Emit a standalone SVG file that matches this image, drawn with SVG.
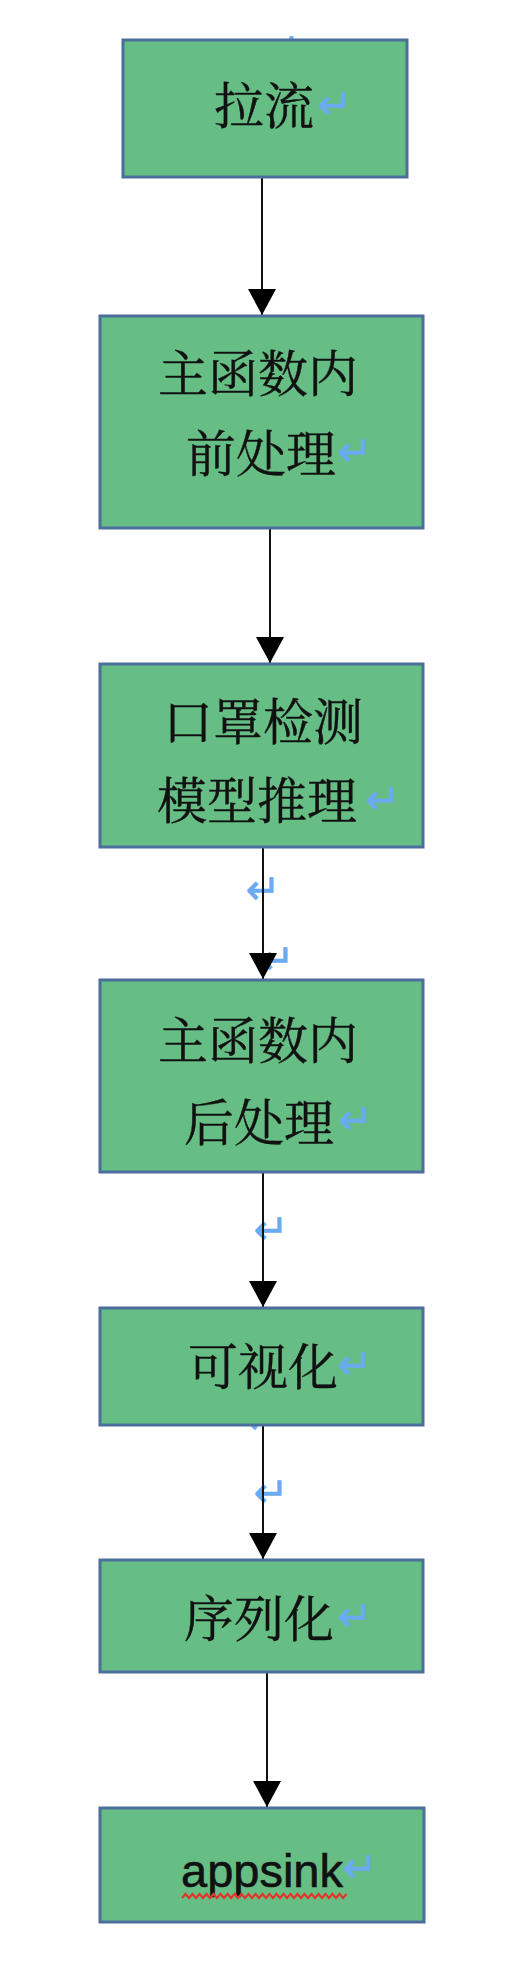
<svg xmlns="http://www.w3.org/2000/svg" width="506" height="1968" viewBox="0 0 506 1968">
<style>
.box{fill:#66BE85;stroke:#4B6E9C;stroke-width:3}
.cjk{font-family:"Noto Serif CJK SC","Noto Sans CJK SC",serif;font-size:50px;fill:#111;stroke:#111;stroke-width:0.4}
.lat{font-family:"Liberation Sans",Arial,sans-serif;font-size:47px;fill:#111}
.ret{font-family:"DejaVu Sans",sans-serif;font-size:42px;fill:#6AAAF0;stroke:#6AAAF0;stroke-width:0.6;text-anchor:middle}
.conn{stroke:#111;stroke-width:2;fill:none}
</style>
<defs>
<marker id="ah" viewBox="0 0 26 28" refX="26" refY="14" markerWidth="26" markerHeight="28" markerUnits="userSpaceOnUse" orient="auto">
<path d="M0,0 L26,14 L0,28 z" fill="#000"/>
</marker>
</defs>
<rect width="506" height="1968" fill="#fff"/>
<g id="stray-marks">
<text class="ret" x="283" y="63">↵</text>
<text class="ret" x="263" y="904">↵</text>
<text class="ret" x="277" y="974">↵</text>
<text class="ret" x="271" y="1244">↵</text>
<text class="ret" x="262" y="1434">↵</text>
<text class="ret" x="271" y="1507">↵</text>
</g>
<g id="connectors">
<line class="conn" x1="262" y1="177" x2="262" y2="315" marker-end="url(#ah)"/>
<line class="conn" x1="270" y1="528" x2="270" y2="663" marker-end="url(#ah)"/>
<line class="conn" x1="263" y1="847" x2="263" y2="979" marker-end="url(#ah)"/>
<line class="conn" x1="263" y1="1172" x2="263" y2="1307" marker-end="url(#ah)"/>
<line class="conn" x1="263" y1="1425" x2="263" y2="1559" marker-end="url(#ah)"/>
<line class="conn" x1="267" y1="1672" x2="267" y2="1807" marker-end="url(#ah)"/>
</g>
<g id="n1">
<rect class="box" x="123" y="40" width="284" height="137"/>
<text class="cjk" x="214" y="124">拉流</text>
<text class="ret" x="335" y="119">↵</text>
</g>
<g id="n2">
<rect class="box" x="100" y="316" width="323" height="212"/>
<text class="cjk" x="158" y="392">主函数内</text>
<text class="cjk" x="186" y="472">前处理</text>
<text class="ret" x="355" y="466">↵</text>
</g>
<g id="n3">
<rect class="box" x="100" y="664" width="323" height="183"/>
<text class="cjk" x="163" y="740">口罩检测</text>
<text class="cjk" x="157" y="819">模型推理</text>
<text class="ret" x="383" y="814">↵</text>
</g>
<g id="n4">
<rect class="box" x="100" y="980" width="323" height="192"/>
<text class="cjk" x="158" y="1059">主函数内</text>
<text class="cjk" x="184" y="1141">后处理</text>
<text class="ret" x="356" y="1134">↵</text>
</g>
<g id="n5">
<rect class="box" x="100" y="1308" width="323" height="117"/>
<text class="cjk" x="188" y="1385">可视化</text>
<text class="ret" x="355" y="1379">↵</text>
</g>
<g id="n6">
<rect class="box" x="100" y="1560" width="323" height="112"/>
<text class="cjk" x="184" y="1637">序列化</text>
<text class="ret" x="355" y="1631">↵</text>
</g>
<g id="n7">
<rect class="box" x="100" y="1808" width="324" height="114"/>
<text class="lat" x="181" y="1887" style="stroke:#111;stroke-width:0.6">appsink</text>
<text class="ret" x="360" y="1882">↵</text>
<path d="M182,1898 l3.5,-4 l3.5,4 l3.5,-4 l3.5,4 l3.5,-4 l3.5,4 l3.5,-4 l3.5,4 l3.5,-4 l3.5,4 l3.5,-4 l3.5,4 l3.5,-4 l3.5,4 l3.5,-4 l3.5,4 l3.5,-4 l3.5,4 l3.5,-4 l3.5,4 l3.5,-4 l3.5,4 l3.5,-4 l3.5,4 l3.5,-4 l3.5,4 l3.5,-4 l3.5,4 l3.5,-4 l3.5,4 l3.5,-4 l3.5,4 l3.5,-4 l3.5,4 l3.5,-4 l3.5,4 l3.5,-4 l3.5,4 l3.5,-4 l3.5,4 l3.5,-4 l3.5,4 l3.5,-4 l3.5,4 l3.5,-4 l3.5,4 l3.5,-4" fill="none" stroke="#E0392B" stroke-width="2.2"/>
</g>
</svg>
